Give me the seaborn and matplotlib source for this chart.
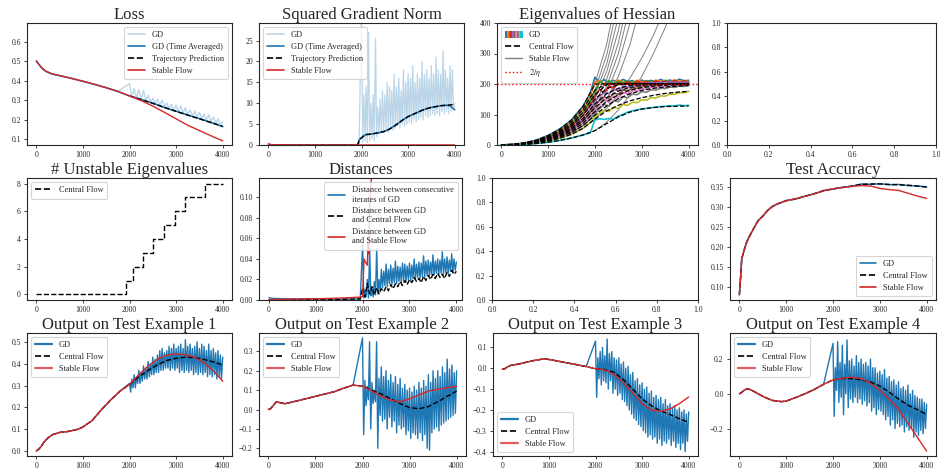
import numpy as np
import matplotlib
matplotlib.use("Agg")
import matplotlib.pyplot as plt
from matplotlib.patches import Rectangle
from matplotlib.lines import Line2D
from matplotlib.legend_handler import HandlerTuple
import seaborn as sns

sns.set_theme(context="paper", style="ticks")
plt.rcParams['font.family'] = ['Liberation Serif', 'DejaVu Serif']
plt.rcParams['mathtext.fontset'] = 'stix'
plt.rcParams['axes.linewidth'] = 0.8
plt.rcParams['axes.edgecolor'] = '0.15'
plt.rcParams['xtick.labelsize'] = 5.5
plt.rcParams['ytick.labelsize'] = 5.5
plt.rcParams['xtick.major.size'] = 2.5
plt.rcParams['ytick.major.size'] = 2.5
plt.rcParams['xtick.major.width'] = 0.6
plt.rcParams['ytick.major.width'] = 0.6
plt.rcParams['xtick.major.pad'] = 2
plt.rcParams['ytick.major.pad'] = 2

# ---------------- data ----------------
tail50 = list(range(2000, 4001, 50))   # coarse grid for GD after step 2000
tail25 = list(range(2000, 4001, 25))   # fine grid for the fast-oscillating GD series
step_ticks = [0, 1000, 2000, 3000, 4000]

# Loss
loss_steps = [0, 50, 100, 150, 200, 300, 400, 500, 750, 1000, 1250, 1500, 1750,
              2000, 2250, 2500, 2750, 3000, 3250, 3500, 3750, 4000]
loss_pred = [0.500, 0.485, 0.470, 0.458, 0.449, 0.438, 0.431, 0.426, 0.412, 0.397, 0.381, 0.364, 0.345,
             0.322, 0.303, 0.284, 0.263, 0.243, 0.224, 0.205, 0.186, 0.167]
loss_gd_avg = [0.500, 0.485, 0.470, 0.458, 0.449, 0.438, 0.431, 0.426, 0.412, 0.397, 0.381, 0.364, 0.345,
               0.322, 0.304, 0.285, 0.263, 0.244, 0.224, 0.206, 0.186, 0.165]
loss_stable = [0.500, 0.485, 0.470, 0.458, 0.449, 0.438, 0.431, 0.426, 0.412, 0.397, 0.381, 0.364, 0.345,
               0.322, 0.298, 0.270, 0.238, 0.205, 0.172, 0.145, 0.118, 0.092]
loss_gd_tail = [0.385, 0.315, 0.360, 0.310, 0.355, 0.303, 0.350, 0.300, 0.325, 0.290, 0.310, 0.283, 0.305,
                0.275, 0.300, 0.265, 0.285, 0.258, 0.280, 0.250, 0.275, 0.242, 0.270, 0.235, 0.262, 0.226,
                0.250, 0.220, 0.245, 0.212, 0.238, 0.205, 0.230, 0.198, 0.225, 0.190, 0.215, 0.183, 0.205,
                0.176, 0.190]

# Squared gradient norm
gn_head_steps = [0, 50, 100, 500, 1000, 1500, 1900, 1950]
gn_gd_head = [0.4, 0.15, 0.05, 0.02, 0.02, 0.03, 0.05, 0.3]
gn_gd_tail = [35, 0.5, 12, 1, 14, 0.5, 27, 1, 10, 1.5, 12, 1, 25.5, 2, 9, 2.5, 11, 3, 13, 3,
              12, 3.5, 15, 3, 14, 4, 13, 3.5, 17, 4, 14, 4.5, 16, 4, 13, 5, 18, 4.5, 15, 5,
              17, 5.5, 16, 5, 19, 6, 15, 5.5, 17, 6, 16, 6.5, 20, 6, 17, 7, 18, 6.5, 16, 7,
              19, 7.5, 17, 7, 21, 7.5, 18, 7, 17, 8, 22.5, 7.5, 18, 8, 16, 7.5, 19, 8, 18, 8.5,
              10]
gn_steps = [0, 1900, 1930, 1950, 2000, 2050, 2100, 2200, 2300, 2400, 2500, 2600, 2700, 2800, 2900,
            3000, 3100, 3200, 3300, 3400, 3500, 3600, 3700, 3800, 3900, 4000]
gn_pred = [0.0, 0.0, 0.3, 1.3, 1.7, 2.2, 2.5, 2.6, 2.8, 3.0, 3.3, 3.8, 4.5, 5.3, 6.1,
           6.8, 7.3, 7.8, 8.3, 8.7, 9.0, 9.2, 9.4, 9.5, 9.6, 9.7]
gn_gd_avg = [0.0, 0.0, 0.3, 1.3, 1.7, 2.2, 2.5, 2.6, 2.8, 3.0, 3.3, 3.8, 4.5, 5.3, 6.1,
             6.8, 7.3, 7.8, 8.3, 8.7, 9.0, 9.2, 9.4, 9.5, 9.4, 8.4]
gn_stable_steps = [0, 50, 200, 1000, 2000, 3000, 4000]
gn_stable = [0.3, 0.1, 0.03, 0.02, 0.02, 0.02, 0.02]

# Eigenvalues of the Hessian (top 10)
eig_steps = [0, 250, 500, 750, 1000, 1250, 1500, 1750, 2000, 2250, 2500, 2750, 3000, 3250, 3500, 3750, 4000]
eig_central = [
    [0, 2, 7, 16, 31, 52, 82, 128, 200, 200, 200, 200, 200, 200, 200, 200, 200],
    [0, 2, 6, 14, 28, 47, 75, 118, 180, 200, 200, 200, 200, 200, 200, 200, 200],
    [0, 2, 6, 13, 26, 43, 68, 108, 165, 198, 200, 200, 200, 200, 200, 200, 200],
    [0, 1, 5, 12, 23, 39, 62, 98, 150, 185, 197, 200, 200, 200, 200, 200, 200],
    [0, 1, 5, 11, 21, 35, 56, 88, 135, 168, 186, 195, 199, 200, 200, 200, 200],
    [0, 1, 4, 10, 19, 32, 51, 80, 122, 155, 177, 189, 195, 198, 199, 200, 200],
    [0, 1, 4, 9, 17, 29, 46, 72, 110, 142, 165, 180, 188, 193, 196, 197, 198],
    [0, 1, 3, 8, 15, 26, 41, 64, 98, 128, 152, 168, 179, 186, 190, 193, 195],
    [0, 1, 3, 7, 13, 22, 35, 55, 85, 112, 130, 145, 155, 163, 169, 173, 176],
    [0, 1, 2, 5, 9, 15, 23, 33, 47, 70, 92, 108, 118, 123, 126, 127, 128],
]
eig_stable = [
    [0, 2, 7, 16, 31, 52, 82, 128, 200, 330, 520, 800, 1200, 1700, 2300, 3000, 3800],
    [0, 2, 6, 14, 28, 47, 75, 118, 180, 295, 470, 720, 1080, 1550, 2100, 2750, 3500],
    [0, 2, 6, 13, 26, 43, 68, 108, 165, 265, 420, 640, 950, 1350, 1850, 2450, 3150],
    [0, 1, 5, 12, 23, 39, 62, 98, 150, 240, 375, 570, 850, 1200, 1650, 2200, 2850],
    [0, 1, 5, 11, 21, 35, 56, 88, 135, 215, 335, 510, 760, 1080, 1480, 1980, 2550],
    [0, 1, 4, 10, 19, 32, 51, 80, 122, 192, 300, 455, 680, 970, 1330, 1780, 2300],
    [0, 1, 4, 9, 17, 29, 46, 72, 110, 172, 265, 400, 600, 860, 1180, 1580, 2050],
    [0, 1, 3, 8, 15, 26, 41, 64, 98, 150, 225, 330, 475, 670, 920, 1230, 1600],
    [0, 1, 3, 7, 13, 22, 35, 55, 85, 120, 165, 220, 285, 360, 450, 560, 690],
    [0, 1, 2, 5, 9, 15, 23, 33, 47, 75, 115, 165, 225, 300, 385, 480, 590],
]
eig_gd_tail_steps = list(range(1900, 4001, 100))
eig_gd_tail = [
    [170, 222, 206, 214, 203, 212, 205, 215, 208, 211, 204, 213, 207, 212, 206, 215, 209, 213, 207, 216, 210, 212],
    [160, 205, 212, 200, 210, 203, 213, 206, 209, 204, 212, 207, 210, 205, 213, 208, 211, 206, 214, 209, 212, 208],
    [145, 175, 208, 198, 211, 201, 209, 203, 210, 205, 208, 202, 211, 206, 209, 204, 212, 207, 210, 205, 211, 207],
    [132, 160, 182, 170, 195, 185, 205, 198, 207, 200, 209, 203, 208, 202, 210, 205, 209, 204, 211, 206, 210, 205],
    [118, 145, 160, 172, 168, 182, 178, 192, 188, 198, 195, 203, 199, 205, 201, 206, 202, 207, 203, 208, 204, 206],
    [107, 130, 146, 158, 152, 170, 166, 180, 178, 188, 186, 193, 191, 197, 195, 200, 198, 202, 199, 203, 200, 202],
    [96, 118, 132, 150, 140, 160, 155, 172, 168, 180, 177, 186, 183, 190, 188, 194, 191, 197, 194, 199, 196, 198],
    [85, 106, 120, 132, 128, 145, 142, 158, 155, 167, 165, 175, 173, 181, 180, 186, 185, 190, 189, 193, 192, 195],
    [74, 93, 103, 114, 110, 123, 120, 132, 130, 140, 139, 148, 147, 155, 154, 161, 160, 167, 166, 172, 171, 176],
    [40, 82, 86, 84, 87, 85, 95, 100, 108, 112, 115, 118, 120, 122, 124, 126, 127, 129, 128, 131, 129, 130],
]
eta_threshold = 200

# Number of unstable eigenvalues (central flow)
unstable_steps = [0, 1920, 2080, 2290, 2500, 2730, 2970, 3200, 3620, 4000]
unstable_count = [0, 1, 2, 3, 4, 5, 6, 7, 8, 8]

# Distances
dist_head_steps = [0, 100, 500, 1000, 1500, 1950]
dist_gd_head = [0.0022, 0.0015, 0.0011, 0.0010, 0.0010, 0.0010]
dist_gd_tail = [0.055, 0.002, 0.010, 0.003, 0.020, 0.002, 0.050, 0.004, 0.012, 0.003, 0.018, 0.005,
                0.050, 0.006, 0.020, 0.008, 0.030, 0.012, 0.028, 0.014, 0.035, 0.013, 0.030, 0.016,
                0.034, 0.015, 0.031, 0.017, 0.038, 0.016, 0.033, 0.018, 0.032, 0.017, 0.036, 0.019,
                0.035, 0.018, 0.033, 0.020, 0.036, 0.019, 0.034, 0.021, 0.040, 0.020, 0.035, 0.022,
                0.037, 0.021, 0.036, 0.023, 0.043, 0.022, 0.038, 0.024, 0.039, 0.023, 0.037, 0.025,
                0.044, 0.024, 0.038, 0.026, 0.040, 0.025, 0.039, 0.026, 0.047, 0.025, 0.040, 0.027,
                0.042, 0.026, 0.039, 0.028, 0.045, 0.027, 0.040, 0.029, 0.037]
dist_cf_head = [0.0003, 0.0003, 0.0004, 0.0005, 0.0006, 0.0010]
dist_cf_tail = [0.012, 0.003, 0.016, 0.006, 0.013, 0.005, 0.012, 0.006, 0.011, 0.008, 0.013, 0.009, 0.015,
                0.011, 0.016, 0.013, 0.018, 0.014, 0.019, 0.015, 0.020, 0.017, 0.022, 0.018, 0.021, 0.017,
                0.023, 0.019, 0.024, 0.020, 0.025, 0.021, 0.026, 0.022, 0.025, 0.021, 0.027, 0.023, 0.029,
                0.025, 0.028]
dist_sf_steps = [0, 500, 1000, 1500, 1950, 2000, 2030, 2060, 2100, 2115, 2130, 2150, 2200, 2300]
dist_sf = [0.0005, 0.0008, 0.0012, 0.0018, 0.0028, 0.0035, 0.040, 0.037, 0.034, 0.056, 0.045, 0.090, 0.130, 0.200]

# Test accuracy
acc_steps = [0, 25, 50, 100, 150, 200, 300, 400, 500, 600, 700, 800, 1000, 1200, 1400, 1600, 1800, 2000,
             2200, 2400, 2600, 2800, 3000, 3200, 3400, 3600, 3800, 4000]
acc_gd = [0.080, 0.122, 0.168, 0.192, 0.209, 0.224, 0.244, 0.266, 0.276, 0.291, 0.301, 0.306, 0.316, 0.319,
          0.327, 0.332, 0.341, 0.344, 0.349, 0.351, 0.357, 0.356, 0.358, 0.355, 0.356, 0.353, 0.352, 0.350]
acc_central = [0.080, 0.120, 0.170, 0.190, 0.210, 0.222, 0.245, 0.265, 0.277, 0.290, 0.300, 0.307, 0.315, 0.320,
               0.326, 0.333, 0.340, 0.345, 0.348, 0.352, 0.356, 0.357, 0.357, 0.356, 0.355, 0.354, 0.352, 0.349]
acc_stable = [0.080, 0.120, 0.170, 0.190, 0.210, 0.222, 0.245, 0.265, 0.277, 0.290, 0.300, 0.307, 0.315, 0.320,
              0.326, 0.333, 0.340, 0.345, 0.348, 0.351, 0.353, 0.352, 0.346, 0.343, 0.341, 0.334, 0.327, 0.321]

# Network output on four test examples
out_steps = [0, 50, 100, 170, 250, 350, 500, 700, 900, 1000, 1200, 1400, 1600, 1800, 2000,
             2200, 2400, 2600, 2800, 3000, 3200, 3400, 3600, 3800, 4000]
ex1_central = [0.000, 0.008, 0.020, 0.042, 0.060, 0.075, 0.085, 0.090, 0.100, 0.110, 0.140, 0.190, 0.235, 0.275,
               0.305, 0.340, 0.370, 0.395, 0.415, 0.425, 0.430, 0.428, 0.420, 0.408, 0.395]
ex1_stable = [0.000, 0.008, 0.020, 0.042, 0.060, 0.075, 0.085, 0.090, 0.100, 0.110, 0.140, 0.190, 0.235, 0.275,
              0.305, 0.350, 0.390, 0.420, 0.440, 0.445, 0.442, 0.430, 0.405, 0.368, 0.320]
ex1_gd_tail = [0.31, 0.27, 0.33, 0.29, 0.35, 0.29, 0.34, 0.31, 0.37, 0.31, 0.36, 0.32, 0.39, 0.33, 0.38, 0.33,
               0.41, 0.34, 0.40, 0.35, 0.43, 0.35, 0.42, 0.36, 0.44, 0.36, 0.46, 0.37, 0.47, 0.37, 0.45, 0.38,
               0.46, 0.38, 0.48, 0.37, 0.47, 0.38, 0.49, 0.37, 0.47, 0.38, 0.48, 0.36, 0.49, 0.37, 0.47, 0.36,
               0.51, 0.37, 0.48, 0.36, 0.49, 0.37, 0.47, 0.35, 0.48, 0.36, 0.50, 0.35, 0.47, 0.36, 0.49, 0.35,
               0.48, 0.36, 0.46, 0.34, 0.49, 0.35, 0.46, 0.34, 0.47, 0.35, 0.45, 0.33, 0.46, 0.34, 0.44, 0.33,
               0.43]
ex2_central = [0.000, 0.005, 0.020, 0.040, 0.035, 0.030, 0.038, 0.050, 0.062, 0.068, 0.080, 0.092, 0.110, 0.126,
               0.120, 0.100, 0.080, 0.055, 0.030, 0.010, 0.004, 0.015, 0.040, 0.068, 0.095]
ex2_stable = [0.000, 0.005, 0.020, 0.040, 0.035, 0.030, 0.038, 0.050, 0.062, 0.068, 0.080, 0.092, 0.110, 0.126,
              0.120, 0.095, 0.068, 0.048, 0.040, 0.055, 0.075, 0.095, 0.105, 0.112, 0.120]
ex2_gd_tail = [0.37, -0.13, 0.15, 0.02, 0.12, 0.05, 0.35, -0.10, 0.14, 0.03, 0.10, 0.04, 0.35, -0.20, 0.16, -0.03,
               0.22, -0.06, 0.17, -0.05, 0.20, -0.10, 0.15, -0.04, 0.18, -0.09, 0.14, -0.06, 0.17, -0.12, 0.13, -0.08,
               0.16, -0.10, 0.11, -0.09, 0.13, -0.13, 0.10, -0.11, 0.11, -0.15, 0.09, -0.12, 0.12, -0.13, 0.10, -0.15,
               0.14, -0.12, 0.11, -0.16, 0.15, -0.13, 0.12, -0.20, 0.18, -0.21, 0.14, -0.12, 0.20, -0.10, 0.16, -0.09,
               0.20, -0.11, 0.17, -0.08, 0.22, -0.07, 0.19, -0.06, 0.26, -0.05, 0.21, -0.04, 0.23, -0.03, 0.19, -0.02,
               0.20]
ex3_central = [-0.005, -0.003, 0.005, 0.013, 0.016, 0.020, 0.028, 0.038, 0.045, 0.042, 0.034, 0.025, 0.017, 0.008,
               -0.002, -0.006, -0.020, -0.055, -0.100, -0.147, -0.180, -0.205, -0.222, -0.242, -0.260]
ex3_stable = [-0.005, -0.003, 0.005, 0.013, 0.016, 0.020, 0.028, 0.038, 0.045, 0.042, 0.034, 0.025, 0.017, 0.008,
              -0.002, -0.008, -0.030, -0.070, -0.120, -0.170, -0.200, -0.207, -0.195, -0.170, -0.138]
ex3_gd_tail = [0.13, -0.14, 0.05, -0.05, 0.08, -0.08, 0.10, -0.06, 0.06, -0.07, 0.14, -0.10, 0.07, -0.06, 0.08, -0.12,
               0.05, -0.10, 0.04, -0.13, 0.05, -0.12, 0.02, -0.15, 0.03, -0.16, 0.00, -0.18, 0.01, -0.20, -0.03, -0.22,
               -0.02, -0.24, -0.06, -0.25, -0.05, -0.27, -0.08, -0.28, -0.07, -0.30, -0.10, -0.31, -0.09, -0.33,
               -0.12, -0.32, -0.11, -0.34, -0.14, -0.33, -0.13, -0.36, -0.15, -0.34, -0.14, -0.37, -0.17, -0.35,
               -0.15, -0.36, -0.18, -0.34, -0.17, -0.37, -0.19, -0.35, -0.18, -0.38, -0.20, -0.36, -0.19, -0.39,
               -0.21, -0.36, -0.20, -0.40, -0.22, -0.35, -0.21]
ex4_central = [0.000, 0.008, 0.020, 0.030, 0.022, 0.008, -0.015, -0.038, -0.045, -0.042, -0.022, 0.000, 0.025, 0.055,
               0.080, 0.088, 0.087, 0.080, 0.068, 0.045, 0.010, -0.030, -0.065, -0.090, -0.120]
ex4_stable = [0.000, 0.008, 0.020, 0.030, 0.022, 0.008, -0.015, -0.038, -0.045, -0.042, -0.022, 0.000, 0.025, 0.055,
              0.080, 0.090, 0.095, 0.088, 0.060, 0.020, -0.030, -0.090, -0.170, -0.250, -0.330]
ex4_gd_tail = [0.29, -0.13, 0.15, 0.02, 0.30, -0.05, 0.18, -0.02, 0.28, -0.12, 0.17, 0.00, 0.31, -0.08, 0.19, -0.03,
               0.20, -0.05, 0.16, -0.02, 0.22, -0.05, 0.18, -0.03, 0.20, -0.06, 0.17, -0.04, 0.18, -0.07, 0.16, -0.05,
               0.20, -0.10, 0.15, -0.08, 0.15, -0.12, 0.12, -0.09, 0.13, -0.10, 0.11, -0.12, 0.14, -0.15, 0.09, -0.13,
               0.10, -0.18, 0.07, -0.15, 0.08, -0.20, 0.05, -0.17, 0.07, -0.19, 0.03, -0.18, 0.04, -0.22, 0.02, -0.19,
               0.05, -0.21, 0.00, -0.20, 0.02, -0.25, -0.01, -0.22, -0.02, -0.24, -0.03, -0.21, -0.03, -0.23, -0.05,
               -0.20, -0.06]

# ---------------- figure ----------------
GD_C = "tab:blue"
SF_C = "tab:red"
FW, FH = 940, 472


def box(l, r, t, b):
    return [l / FW, 1 - b / FH, (r - l) / FW, (b - t) / FH]


fig = plt.figure(figsize=(9.4, 4.72), dpi=100)


def line(ax, x, y, **kw):
    sns.lineplot(x=x, y=y, ax=ax, legend=False, errorbar=None, **kw)


def legend(ax, handles, labels, loc, **kw):
    ax.legend(handles, labels, loc=loc, fontsize=6, frameon=True, fancybox=True,
              edgecolor="0.8", framealpha=0.8, borderpad=0.5, labelspacing=0.45, **kw)


def finish(ax, s, xlim=(-200, 4200)):
    ax.set_title(s, fontsize=12, pad=3)
    ax.set_xlim(*xlim)
    ax.set_xticks(step_ticks)


h_gd_light = Line2D([], [], color=GD_C, alpha=0.3, lw=1.2)
h_gd = Line2D([], [], color=GD_C, lw=1.2)
h_cf = Line2D([], [], color="black", ls="--", lw=1.2)
h_sf = Line2D([], [], color=SF_C, lw=1.2)

# --- Loss
ax = fig.add_axes(box(27, 232, 23, 145))
line(ax, loss_steps[:13] + tail50, loss_pred[:13] + loss_gd_tail, color=GD_C, alpha=0.3, lw=1.0)
line(ax, loss_steps, loss_gd_avg, color=GD_C, lw=1.2)
line(ax, loss_steps[13:], loss_pred[13:], color="black", linestyle="--", lw=1.0)
line(ax, loss_steps, loss_stable, color=SF_C, lw=1.0)
ax.set_ylim(0.071, 0.695)
finish(ax, "Loss")
legend(ax, [h_gd_light, h_gd, h_cf, h_sf],
       ["GD", "GD (Time Averaged)", "Trajectory Prediction", "Stable Flow"], "upper right")

# --- Squared gradient norm
ax = fig.add_axes(box(259, 464, 23, 145))
line(ax, gn_head_steps + tail25, gn_gd_head + gn_gd_tail, color=GD_C, alpha=0.3, lw=0.9)
line(ax, gn_steps, gn_gd_avg, color=GD_C, lw=1.2)
line(ax, gn_steps, gn_pred, color="black", linestyle="--", lw=1.0)
line(ax, gn_stable_steps, gn_stable, color=SF_C, lw=1.0)
ax.set_ylim(0, 29.2)
finish(ax, "Squared Gradient Norm")
legend(ax, [h_gd_light, h_gd, h_cf, h_sf],
       ["GD", "GD (Time Averaged)", "Trajectory Prediction", "Stable Flow"], "upper left")

# --- Eigenvalues of Hessian
ax = fig.add_axes(box(497, 698, 23, 145))
palette = sns.color_palette("tab10", 10)
for k in range(10):
    line(ax, eig_steps, eig_stable[k], color="0.5", lw=0.7)
for k in range(10):
    line(ax, eig_steps[:8] + eig_gd_tail_steps, eig_central[k][:8] + eig_gd_tail[k], color=palette[k], lw=1.2)
for k in range(10):
    line(ax, eig_steps, eig_central[k], color="black", linestyle="--", lw=0.9)
ax.axhline(eta_threshold, color="red", ls=":", lw=1.0)
ax.set_ylim(0, 400)
finish(ax, "Eigenvalues of Hessian", xlim=(-90, 4200))
gd_patch = tuple(Rectangle((0, 0), 1, 1, color=c) for c in palette)
legend(ax, [gd_patch, h_cf, Line2D([], [], color="0.5", lw=1.0), Line2D([], [], color="red", ls=":", lw=1.0)],
       ["GD", "Central Flow", "Stable Flow", r"$2/\eta$"], "upper left",
       handler_map={tuple: HandlerTuple(ndivide=None, pad=0)})

# --- empty panel (row 1)
fig.add_axes(box(727, 936, 23, 145))

# --- Number of unstable eigenvalues
ax = fig.add_axes(box(27, 232, 178, 300))
line(ax, unstable_steps, unstable_count, color="black", linestyle="--", lw=1.0, drawstyle="steps-post")
ax.set_ylim(-0.4, 8.4)
finish(ax, "# Unstable Eigenvalues")
legend(ax, [h_cf], ["Central Flow"], "upper left")

# --- Distances
ax = fig.add_axes(box(259, 462, 178, 300))
line(ax, dist_head_steps + tail25, dist_gd_head + dist_gd_tail, color=GD_C, lw=1.0)
line(ax, dist_head_steps + tail50, dist_cf_head + dist_cf_tail, color="black", linestyle="--", lw=1.0)
line(ax, dist_sf_steps, dist_sf, color=SF_C, lw=1.0)
ax.set_ylim(0, 0.119)
finish(ax, "Distances", xlim=(-210, 4120))
legend(ax, [h_gd, h_cf, h_sf],
       ["Distance between consecutive\niterates of GD", "Distance between GD\nand Central Flow",
        "Distance between GD\nand Stable Flow"], "upper right")

# --- empty panel (row 2)
fig.add_axes(box(492, 698, 178, 300))

# --- Test accuracy
ax = fig.add_axes(box(730, 936, 178, 300))
line(ax, acc_steps, acc_gd, color=GD_C, lw=1.1)
line(ax, acc_steps, acc_central, color="black", linestyle="--", lw=1.0)
line(ax, acc_steps, acc_stable, color=SF_C, lw=1.0)
ax.set_ylim(0.067, 0.372)
finish(ax, "Test Accuracy")
legend(ax, [h_gd, h_cf, h_sf], ["GD", "Central Flow", "Stable Flow"], "lower right")

# --- Outputs on test examples
outputs = [
    (ex1_central, ex1_stable, ex1_gd_tail, (-0.023, 0.541), None, "upper left", (27, 232)),
    (ex2_central, ex2_stable, ex2_gd_tail, (-0.240, 0.395), None, "upper left", (259, 466)),
    (ex3_central, ex3_stable, ex3_gd_tail, (-0.421, 0.169), None, "lower left", (493, 698)),
    (ex4_central, ex4_stable, ex4_gd_tail, (-0.358, 0.350), [-0.2, 0.0, 0.2], "upper left", (730, 936)),
]
for i, (cen, stab, gd_tail, ylim, yticks, loc, (l, r)) in enumerate(outputs):
    ax = fig.add_axes(box(l, r, 333, 456))
    line(ax, out_steps[:14] + tail25, cen[:14] + gd_tail, color=GD_C, lw=1.0)
    line(ax, out_steps, cen, color="black", linestyle="--", lw=1.0)
    line(ax, out_steps, stab, color=SF_C, lw=1.0)
    ax.set_ylim(*ylim)
    if yticks is not None:
        ax.set_yticks(yticks)
    finish(ax, f"Output on Test Example {i + 1}")
    legend(ax, [Line2D([], [], color=GD_C, lw=1.6), h_cf, Line2D([], [], color=SF_C, lw=1.6, alpha=0.75)],
           ["GD", "Central Flow", "Stable Flow"], loc)

for a in fig.axes:
    a.set_xlabel("")
    a.set_ylabel("")
    for s in a.spines.values():
        s.set_visible(True)

fig.savefig("out.png", dpi=100)
